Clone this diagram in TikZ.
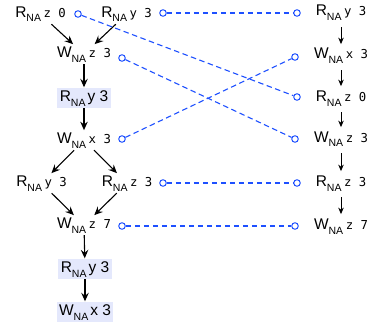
\documentclass[tikz,border=0pt]{standalone}
\usepackage{fontspec}
\setmainfont{Liberation Sans}
\setmonofont{DejaVu Sans Mono}
\usetikzlibrary{arrows.meta}
\definecolor{linkblue}{RGB}{30,80,255}
\definecolor{hlfill}{RGB}{228,232,252}
\newcommand{\na}{\raisebox{-5pt}{\fontsize{10.5}{11}\selectfont NA}}
\newcommand{\evt}[3]{#1\na\hspace{2.5pt}{\fontsize{12.3}{14}\ttfamily #2 #3}}
\newcommand{\hlevt}[3]{#1\na\hspace{2pt}#2 #3}
\tikzset{
  evtnode/.style={inner sep=2pt, font=\fontsize{15.5}{17}\selectfont, anchor=base},
  hlnode/.style={evtnode, fill=hlfill, inner xsep=2.5pt, inner ysep=2pt,
    text height=11.5pt, text depth=5pt},
  port/.style={circle, draw=linkblue, fill=white, line width=1pt,
    inner sep=0pt, minimum size=6.5pt},
  po/.style={-{Stealth[length=8.5pt,width=7.5pt,inset=3pt]}, line width=1.1pt},
  posmall/.style={-{Stealth[length=6.5pt,width=5.5pt,inset=2pt]}, line width=1pt,
    shorten <=4pt, shorten >=2pt},
  rf/.style={linkblue, line width=1.1pt, dash pattern=on 5.5pt off 3.5pt}
}
\begin{document}
\begin{tikzpicture}[x=1pt,y=-1pt]
  \useasboundingbox (0,0) rectangle (373,324);
  % left thread
  \node[evtnode] (rz0)   at (40.5,17) {\evt{R}{z}{0}};
  \node[evtnode] (ry3)   at (126.5,17) {\evt{R}{y}{3}};
  \node[evtnode] (wz3)   at (84,57) {\evt{W}{z}{3}};
  \node[hlnode]  (hry3)  at (84,101) {\hlevt{R}{y}{3}};
  \node[evtnode] (wx3)   at (84,143) {\evt{W}{x}{3}};
  \node[evtnode] (ry3b)  at (41.5,186) {\evt{R}{y}{3}};
  \node[evtnode] (rz3)   at (127,186) {\evt{R}{z}{3}};
  \node[evtnode] (wz7)   at (84,228) {\evt{W}{z}{7}};
  \node[hlnode]  (hry3b) at (85,272) {\hlevt{R}{y}{3}};
  \node[hlnode]  (hwx3)  at (85,315) {\hlevt{W}{x}{3}};
  % right thread
  \node[evtnode] (sry3) at (341,16) {\evt{R}{y}{3}};
  \node[evtnode] (swx3) at (341,59) {\evt{W}{x}{3}};
  \node[evtnode] (srz0) at (341,101) {\evt{R}{z}{0}};
  \node[evtnode] (swz3) at (341,142) {\evt{W}{z}{3}};
  \node[evtnode] (srz3) at (341,186) {\evt{R}{z}{3}};
  \node[evtnode] (swz7) at (341,229) {\evt{W}{z}{7}};
  % program order
  \draw[po] (rz0) -- (wz3);
  \draw[po] (ry3) -- (wz3);
  \draw[po] (wz3) -- (hry3);
  \draw[po] (hry3) -- (wx3);
  \draw[po] (wx3) -- (ry3b);
  \draw[po] (wx3) -- (rz3);
  \draw[po] (ry3b) -- (wz7);
  \draw[po] (rz3) -- (wz7);
  \draw[po] (wz7) -- (hry3b);
  \draw[po] (hry3b) -- (hwx3);
  \draw[posmall] (sry3) -- (swx3);
  \draw[posmall] (swx3) -- (srz0);
  \draw[posmall] (srz0) -- (swz3);
  \draw[posmall] (swz3) -- (srz3);
  \draw[posmall] (srz3) -- (swz7);
  % ports
  \node[port] (rz0p) at (78,14) {};
  \node[port] (ry3p) at (163,13) {};
  \node[port] (wz3p) at (122,58) {};
  \node[port] (wx3p) at (122,139) {};
  \node[port] (rz3p) at (163,183) {};
  \node[port] (wz7p) at (122,226) {};
  \node[port] (sry3p) at (297,13) {};
  \node[port] (swx3p) at (295,57) {};
  \node[port] (srz0p) at (297,97) {};
  \node[port] (swz3p) at (295,139) {};
  \node[port] (srz3p) at (297,183) {};
  \node[port] (swz7p) at (295,226) {};
  % matching accesses
  \draw[rf] (rz0p) -- (srz0p);
  \draw[rf] (ry3p) -- (sry3p);
  \draw[rf] (wz3p) -- (swz3p);
  \draw[rf] (wx3p) -- (swx3p);
  \draw[rf] (rz3p) -- (srz3p);
  \draw[rf] (wz7p) -- (swz7p);
\end{tikzpicture}
\end{document}
